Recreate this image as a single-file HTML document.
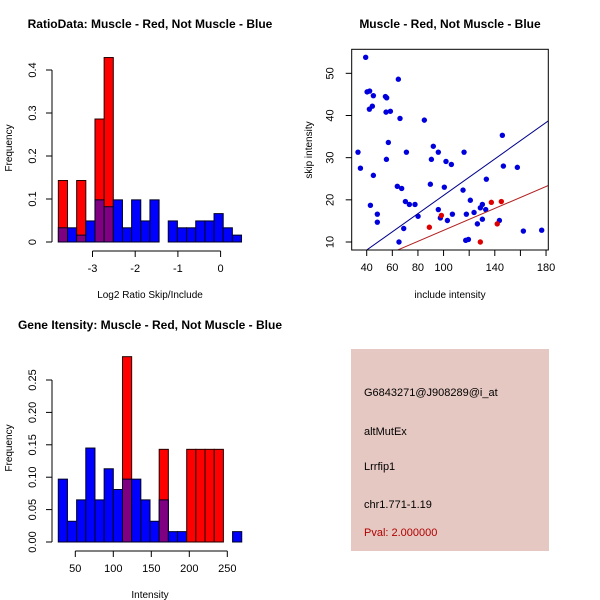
<!DOCTYPE html>
<html><head><meta charset="utf-8"><style>
body{margin:0;background:#fff;}
svg{display:block;font-family:"Liberation Sans",sans-serif;}
</style></head><body>
<svg id="s" width="600" height="600" viewBox="0 0 600 600">
<rect width="600" height="600" fill="#fff"/>
<g id="p1"></g>
<g id="p2"></g>
<g id="p3"></g>
<g>
<rect x="351" y="349" width="198" height="202" fill="#e6c8c2"/>
<text x="364" y="396" font-size="11">G6843271@J908289@i_at</text>
<text x="364" y="435" font-size="11">altMutEx</text>
<text x="364" y="470" font-size="11">Lrrfip1</text>
<text x="364" y="508" font-size="11">chr1.771-1.19</text>
<text x="364" y="536" font-size="11" fill="#b00000">Pval: 2.000000</text>
</g>
</svg>
<script>
// Plot 1 data
const ratioStart = -3.8, ratioBin = 0.2145;
const ratioBlue = [0.033,0.033,0.016,0.049,0.098,0.082,0.098,0.033,0.098,0.049,0.098,0,0.049,0.033,0.033,0.049,0.049,0.066,0.033,0.016];
const ratioRed  = [0.143,0,0.143,0,0.286,0.429,0,0,0,0,0,0,0,0,0,0,0,0,0,0];
const ratioXTicks = [-3,-2,-1,0];
const ratioYTicks = [0,0.1,0.2,0.3,0.4];
// Plot 3 data
const intStart = 27.6, intBin = 12.07;
const intBlue = [0.097,0.032,0.065,0.145,0.065,0.113,0.081,0.097,0.097,0.065,0.032,0.065,0.016,0.016,0,0,0,0,0,0.016];
const intRed  = [0,0,0,0,0,0,0,0.286,0,0,0,0.143,0,0,0.143,0.143,0.143,0.143,0,0];
const intXTicks = [50,100,150,200,250];
const intYTicks = [0,0.05,0.10,0.15,0.20,0.25];
const intYLabels = ["0.00","0.05","0.10","0.15","0.20","0.25"];
// Plot 2 data
const blueX = [39.2,40.3,42.3,45.2,44.4,42.1,54.6,55.6,55.1,58.5,64.7,66.0,33.2,35.1,45.2,56.9,55.4,71.0,85.0,92.0,90.5,95.9,101.9,106.1,116.0,145.9,146.7,157.6,133.4,42.9,48.3,48.3,63.9,67.3,70.2,73.3,77.7,80.1,89.7,100.6,95.9,97.5,103.0,106.9,115.2,120.9,117.8,123.8,126.4,128.7,130.3,132.9,130.3,143.6,117.3,119.4,68.9,65.2,162.3,176.6];
const blueY = [53.8,45.6,45.8,44.7,42.2,41.5,44.5,44.2,40.8,41.0,48.6,39.3,31.3,27.5,25.8,33.6,29.6,31.3,38.9,32.7,29.6,31.3,29.1,28.4,31.3,35.3,28.0,27.7,24.9,18.7,16.6,14.7,23.2,22.7,19.6,18.9,18.9,16.1,23.7,23.0,17.7,15.7,15.1,16.6,22.3,19.9,16.6,17.0,14.3,18.1,18.9,17.7,15.4,15.1,10.4,10.6,13.2,10.0,12.6,12.8];
const redX = [88.9,98.3,128.7,137.3,145.1,141.9];
const redY = [13.5,16.3,10.0,19.4,19.6,14.3];
const blueLine = [-0.54,0.216];
const redLine = [-0.24,0.130];
const scXTicks = [40,60,80,100,120,140,160,180];
const scXLabels = ["40","60","80","100","","140","","180"];
const scYTicks = [10,20,30,40,50];

const NS="http://www.w3.org/2000/svg";
function mk(parent,tag,attrs,txt){const e=document.createElementNS(NS,tag);for(const k in attrs)e.setAttribute(k,attrs[k]);if(txt!==undefined)e.textContent=txt;parent.appendChild(e);return e;}

function hist(g,o){
  const sx=v=>o.x0px+(v-o.x0)*o.kx, sy=v=>o.y0px-v*o.ky;
  for(let i=0;i<o.blue.length;i++){
    const a=sx(o.start+i*o.bin), b=sx(o.start+(i+1)*o.bin);
    if(o.red[i]>0){const r=mk(g,'rect',{x:a,y:sy(o.red[i]),width:b-a,height:o.red[i]*o.ky,fill:'#ff0000',stroke:'#200','stroke-width':1});
      
      }
    if(o.blue[i]>0){const both=o.red[i]>0;const r=mk(g,'rect',{x:a,y:sy(o.blue[i]),width:b-a,height:o.blue[i]*o.ky,fill:both?'#7f0080':'#0000ff',stroke:'#002','stroke-width':1});
      
      }
  }
  const yt=o.yticks;
  mk(g,'line',{x1:o.yaxX,x2:o.yaxX,y1:sy(yt[0]),y2:sy(yt[yt.length-1]),stroke:'#000'});
  yt.forEach((v,i)=>{mk(g,'line',{x1:o.yaxX,x2:o.yaxX-6,y1:sy(v),y2:sy(v),stroke:'#000'});
    const lx=o.yaxX-16;
    const t=mk(g,'text',{x:lx,y:sy(v),'font-size':11,'text-anchor':'middle',transform:`rotate(-90 ${lx} ${sy(v)})`},o.ylabels[i]);
    
    });
  const xt=o.xticks;
  mk(g,'line',{x1:sx(xt[0]),x2:sx(xt[xt.length-1]),y1:o.xaxY,y2:o.xaxY,stroke:'#000'});
  xt.forEach(v=>{mk(g,'line',{x1:sx(v),x2:sx(v),y1:o.xaxY,y2:o.xaxY+6,stroke:'#000'});
    const t=mk(g,'text',{x:sx(v),y:o.xaxY+21,'font-size':11,'text-anchor':'middle'},String(v));
    
    });
  const ti=mk(g,'text',{x:o.tx,y:o.ty,'font-size':12,'font-weight':'bold','text-anchor':'middle'},o.title);
  
  
  const xl=mk(g,'text',{x:150,y:o.xaxY+47,'font-size':10,'text-anchor':'middle'},o.xlab);
  
  
  const yl=mk(g,'text',{x:12,y:o.ylabY,'font-size':10,'text-anchor':'middle',transform:`rotate(-90 12 ${o.ylabY})`},'Frequency');
  
  
}
hist(document.getElementById('p1'),{start:ratioStart,bin:ratioBin,blue:ratioBlue,red:ratioRed,x0:-3,x0px:92.5,kx:42.7,y0px:242,ky:430,
  yticks:ratioYTicks,ylabels:ratioYTicks.map(String),xticks:ratioXTicks,yaxX:52,xaxY:251,title:'RatioData: Muscle - Red, Not Muscle - Blue',tx:150,ty:28,xlab:'Log2 Ratio Skip/Include',ylabY:148});
hist(document.getElementById('p3'),{start:intStart,bin:intBin,blue:intBlue,red:intRed,x0:50,x0px:75.3,kx:0.76,y0px:542,ky:648,
  yticks:intYTicks,ylabels:intYLabels,xticks:intXTicks,yaxX:52,xaxY:551,title:'Gene Itensity: Muscle - Red, Not Muscle - Blue',tx:150,ty:329,xlab:'Intensity',ylabY:448});

(function(){
  const g=document.getElementById('p2');
  const L=351.7,R=548.3,T=49.3,B=250;
  const sx=v=>366.7+(v-40)*1.281, sy=v=>242-(v-10)*4.217;
  const cp=mk(g,'clipPath',{id:'cl'});mk(cp,'rect',{x:L,y:T,width:R-L,height:B-T});
  blueX.forEach((x,i)=>{const c=mk(g,'circle',{cx:sx(x),cy:sy(blueY[i]),r:2.7,fill:'#0000dd'});
    
    });
  redX.forEach((x,i)=>{const c=mk(g,'circle',{cx:sx(x),cy:sy(redY[i]),r:2.7,fill:'#dd0000'});
    
    });
  const xa=20,xb=200;
  const bl=mk(g,'line',{x1:sx(xa),y1:sy(blueLine[0]+blueLine[1]*xa),x2:sx(xb),y2:sy(blueLine[0]+blueLine[1]*xb),stroke:'#00008b','clip-path':'url(#cl)'});
  
  
  const rl=mk(g,'line',{x1:sx(xa),y1:sy(redLine[0]+redLine[1]*xa),x2:sx(xb),y2:sy(redLine[0]+redLine[1]*xb),stroke:'#b22222','clip-path':'url(#cl)'});
  
  
  mk(g,'rect',{x:L,y:T,width:R-L,height:B-T,fill:'none',stroke:'#000'});
  scXTicks.forEach((v,i)=>{mk(g,'line',{x1:sx(v),x2:sx(v),y1:B,y2:B+6,stroke:'#000'});
    if(scXLabels[i]){const t=mk(g,'text',{x:sx(v),y:B+21,'font-size':11,'text-anchor':'middle'},scXLabels[i]);
    
    }});
  scYTicks.forEach(v=>{mk(g,'line',{x1:L,x2:L-6,y1:sy(v),y2:sy(v),stroke:'#000'});
    const lx=L-18;
    const t=mk(g,'text',{x:lx,y:sy(v),'font-size':11,'text-anchor':'middle',transform:`rotate(-90 ${lx} ${sy(v)})`},String(v));
    
    });
  const ti=mk(g,'text',{x:450,y:28,'font-size':12,'font-weight':'bold','text-anchor':'middle'},'Muscle - Red, Not Muscle - Blue');
  
  
  const xl=mk(g,'text',{x:450,y:298,'font-size':10,'text-anchor':'middle'},'include intensity');
  
  
  const yl=mk(g,'text',{x:312,y:150,'font-size':10,'text-anchor':'middle',transform:'rotate(-90 312 150)'},'skip intensity');
  
  
})();
</script>
</body></html>
